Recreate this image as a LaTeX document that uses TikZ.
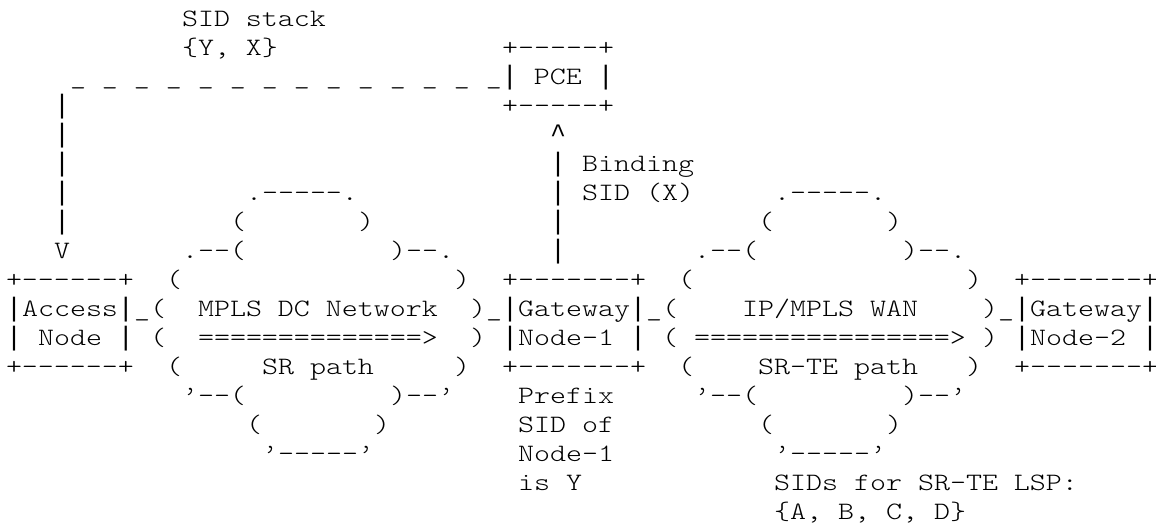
\documentclass[tikz,border=0pt]{standalone}
\usepackage{fontspec}
\setmonofont{Latin Modern Mono Light}[FakeStretch=1.219]
\newfontfamily\lbmono{Liberation Mono}[Scale=1.0667]
\newcommand\asciibar{{\lbmono|}}
\newcommand\asciicaret{{\lbmono\char"5E}}
\tikzset{
  asc/.style={anchor=base west, inner sep=0pt, outer sep=0pt,
    font=\ttfamily\fontsize{25pt}{29pt}\selectfont, text=black}
}
\newcommand\putch[4]{\node[asc] (#1) at ({6+16*#2},{-26.5-29*(#3-1)}) {#4};}
\begin{document}
\begin{tikzpicture}[x=1pt,y=1pt]
\useasboundingbox (0,0) rectangle (1156,-531);
% line 1-2
\putch{sidstack}{11}{1}{SID stack}
\putch{sidyx}{11}{2}{\{Y, X\}}
\putch{pcetop}{31}{2}{+-----+}
% line 3
\putch{pcemid}{4}{3}{\_ \_ \_ \_ \_ \_ \_ \_ \_ \_ \_ \_ \_ \_\asciibar{} PCE \asciibar}
% line 4
\putch{va}{3}{4}{\asciibar}
\putch{pcebot}{31}{4}{+-----+}
% line 5
\putch{vb}{3}{5}{\asciibar}
\putch{caret}{34}{5}{\asciicaret}
% line 6
\putch{vc}{3}{6}{\asciibar}
\putch{bind}{34}{6}{\asciibar{} Binding}
% line 7
\putch{vd}{3}{7}{\asciibar}
\putch{lca}{15}{7}{.-----.}
\putch{bsid}{34}{7}{\asciibar{} SID (X)}
\putch{rca}{48}{7}{.-----.}
% line 8
\putch{ve}{3}{8}{\asciibar}
\putch{lcbl}{14}{8}{(}
\putch{lcbr}{22}{8}{)}
\putch{vf}{34}{8}{\asciibar}
\putch{rcbl}{47}{8}{(}
\putch{rcbr}{55}{8}{)}
% line 9
\putch{arrv}{3}{9}{V}
\putch{lccl}{11}{9}{.--(}
\putch{lccr}{24}{9}{)--.}
\putch{vg}{34}{9}{\asciibar}
\putch{rccl}{43}{9}{.--(}
\putch{rccr}{56}{9}{)--.}
% line 10
\putch{accA}{0}{10}{+------+}
\putch{lcdl}{10}{10}{(}
\putch{lcdr}{28}{10}{)}
\putch{gwA}{31}{10}{+-------+}
\putch{rcdl}{42}{10}{(}
\putch{rcdr}{60}{10}{)}
\putch{gwbA}{63}{10}{+-------+}
% line 11
\putch{accB}{0}{11}{\asciibar Access\asciibar\_(}
\putch{dcnet}{12}{11}{MPLS DC Network}
\putch{gwB}{29}{11}{)\_\asciibar Gateway\asciibar\_(}
\putch{wan}{46}{11}{IP/MPLS WAN}
\putch{gwbB}{61}{11}{)\_\asciibar Gateway\asciibar}
% line 12
\putch{accC}{0}{12}{\asciibar{} Node \asciibar}
\putch{lcel}{9}{12}{(}
\putch{srarrow}{12}{12}{==============>}
\putch{lcer}{29}{12}{)}
\putch{gwC}{31}{12}{\asciibar Node-1 \asciibar}
\putch{rcel}{41}{12}{(}
\putch{tearrow}{43}{12}{================>}
\putch{rcer}{61}{12}{)}
\putch{gwbC}{63}{12}{\asciibar Node-2 \asciibar}
% line 13
\putch{accD}{0}{13}{+------+}
\putch{lcfl}{10}{13}{(}
\putch{srpath}{16}{13}{SR path}
\putch{lcfr}{28}{13}{)}
\putch{gwD}{31}{13}{+-------+}
\putch{rcfl}{42}{13}{(}
\putch{tepath}{47}{13}{SR-TE path}
\putch{rcfr}{60}{13}{)}
\putch{gwbD}{63}{13}{+-------+}
% line 14
\putch{lcgl}{11}{14}{’--(}
\putch{lcgr}{24}{14}{)--’}
\putch{pfa}{32}{14}{Prefix}
\putch{rcgl}{43}{14}{’--(}
\putch{rcgr}{56}{14}{)--’}
% line 15
\putch{lchl}{15}{15}{(}
\putch{lchr}{23}{15}{)}
\putch{pfb}{32}{15}{SID of}
\putch{rchl}{47}{15}{(}
\putch{rchr}{55}{15}{)}
% line 16
\putch{lci}{16}{16}{’-----’}
\putch{pfc}{32}{16}{Node-1}
\putch{rci}{48}{16}{’-----’}
% line 17
\putch{pfd}{32}{17}{is Y}
\putch{sidsa}{48}{17}{SIDs for SR-TE LSP:}
% line 18
\putch{sidsb}{48}{18}{\{A, B, C, D\}}
\end{tikzpicture}
\end{document}
